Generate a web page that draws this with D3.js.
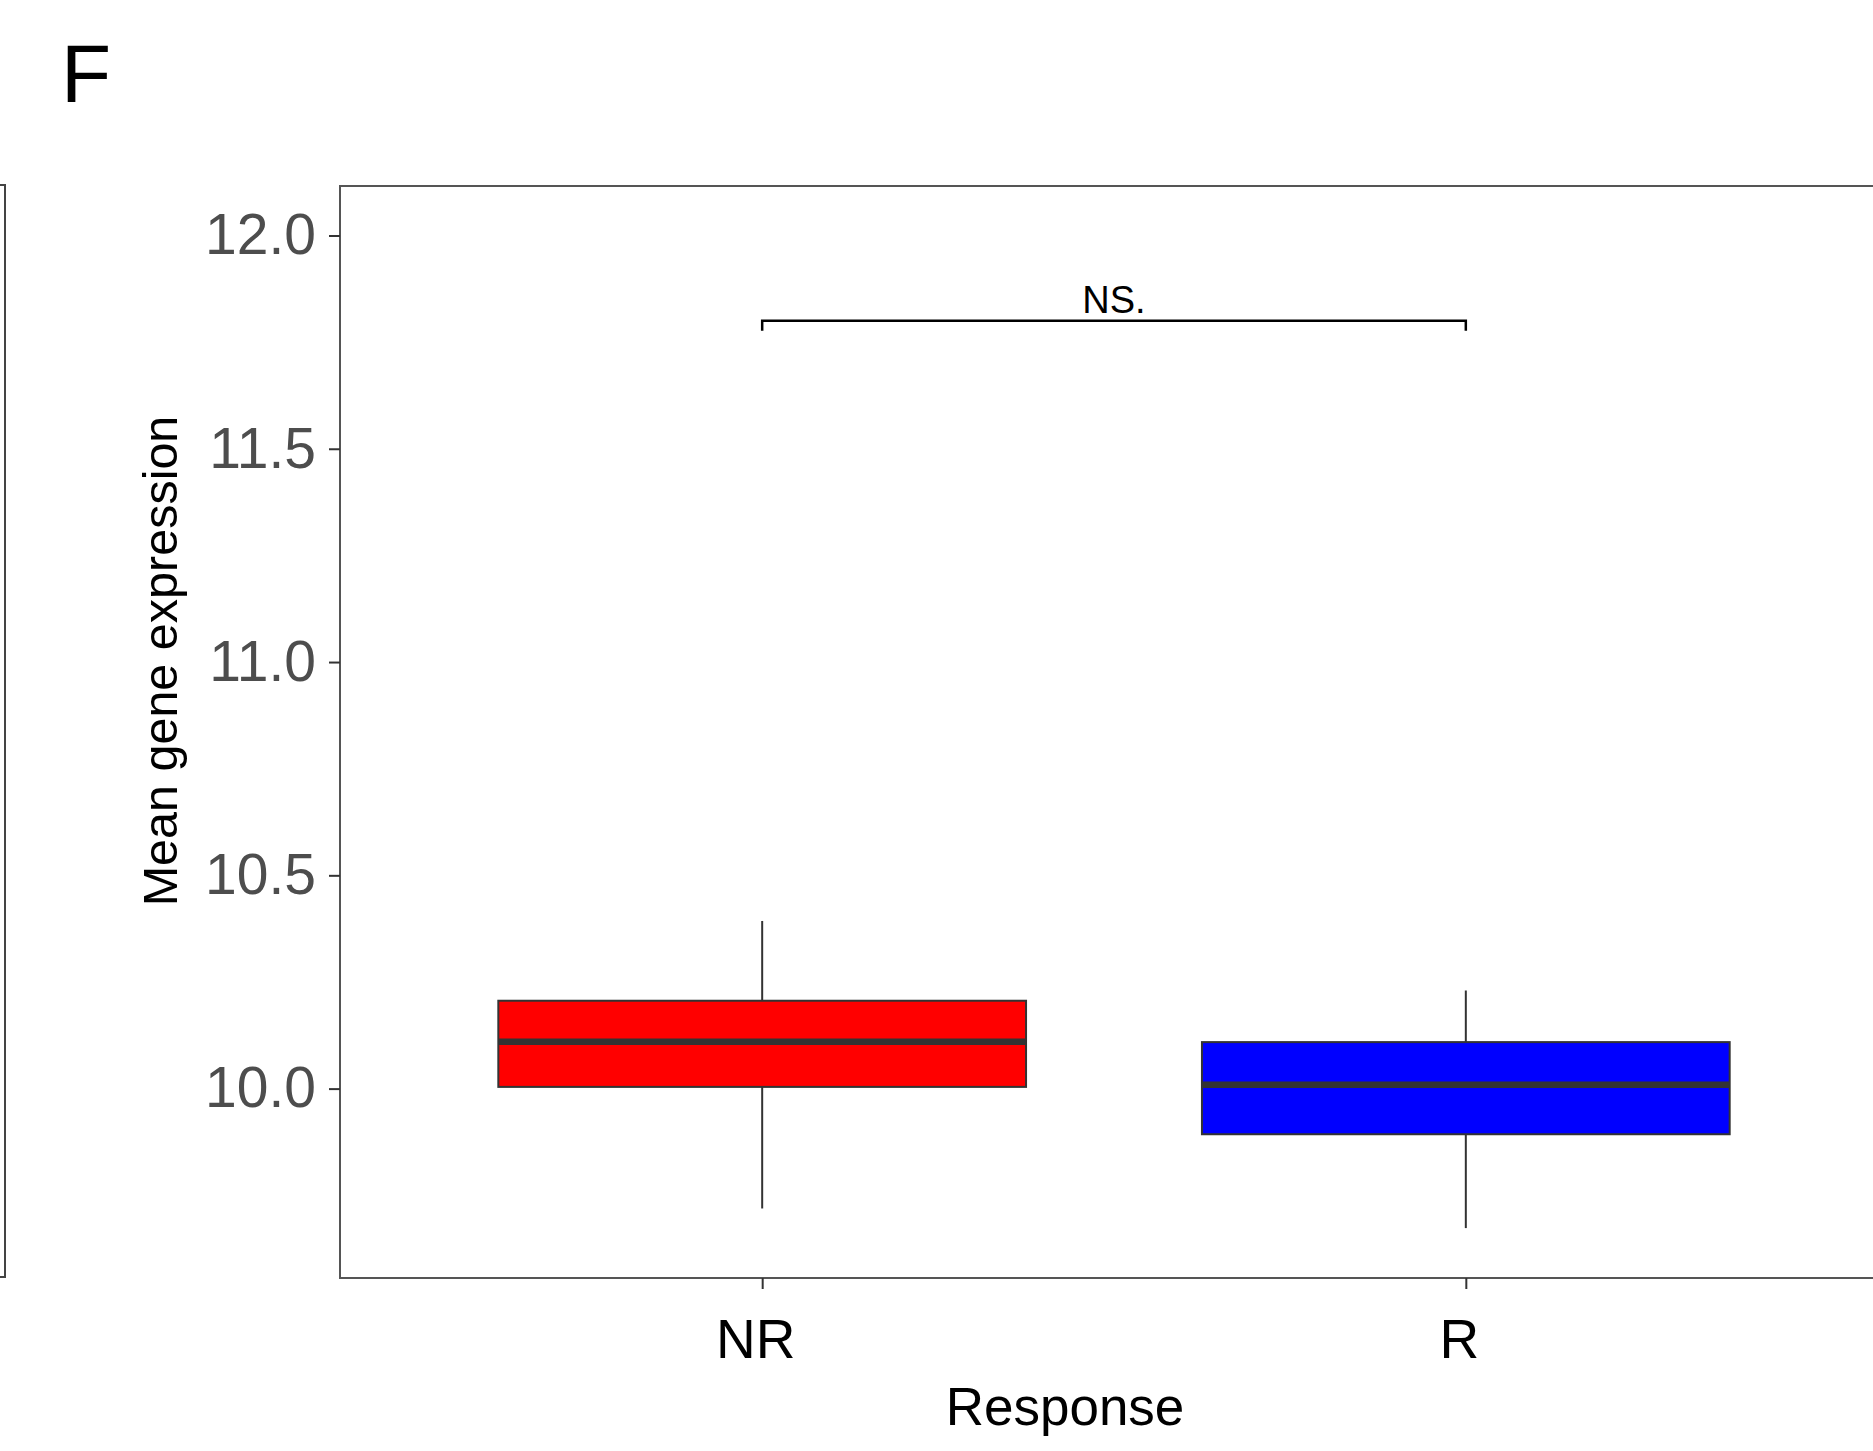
<!DOCTYPE html>
<html>
<head>
<meta charset="utf-8">
<script src="https://cdn.jsdelivr.net/npm/d3@7"></script>
<style>
  body { margin: 0; background: #fff; }
  svg { display: block; font-family: "Liberation Sans", Arial, sans-serif; }
</style>
</head>
<body>
<svg id="drawing_region"></svg>
<script>
// box stats
const groups = ["NR", "R"];
const lowerWhisker = [9.719, 9.673];
const q1 = [10.004, 9.893];
const median = [10.110, 10.009];
const q3 = [10.206, 10.109];
const upperWhisker = [10.393, 10.230];
const fills = ["#ff0000", "#0000ff"];
const yTicks = [10.0, 10.5, 11.0, 11.5, 12.0];
const bracketY = 11.80;
const bracketLabel = "NS.";

const W = 1873, H = 1451;
const panel = { left: 340, top: 186, right: 1888, bottom: 1278 };

const svg = d3.select("#drawing_region")
    .attr("width", W)
    .attr("height", H);

const x = d3.scalePoint()
    .domain(groups)
    .range([panel.left, panel.right])
    .padding(0.6);

const y = d3.scaleLinear()
    .domain([9.556, 12.116])
    .range([panel.bottom, panel.top]);

const boxW = x.step() * 0.75;

// panel F label
svg.append("text")
    .attr("x", 61)
    .attr("y", 102)
    .attr("font-size", 82)
    .attr("fill", "#000")
    .text("F");

// edge of the neighbouring panel
svg.append("path")
    .attr("d", `M0,185 H5 V1277 H0`)
    .attr("fill", "none")
    .attr("stroke", "#444")
    .attr("stroke-width", 2);

// panel border
svg.append("rect")
    .attr("x", panel.left)
    .attr("y", panel.top)
    .attr("width", panel.right - panel.left)
    .attr("height", panel.bottom - panel.top)
    .attr("fill", "none")
    .attr("stroke", "#555")
    .attr("stroke-width", 2);

// axes
const yAxis = svg.append("g")
    .attr("transform", `translate(${panel.left},0)`)
    .call(d3.axisLeft(y).tickValues(yTicks).tickFormat(d3.format(".1f")).tickSize(11).tickPadding(13));
yAxis.select(".domain").remove();
yAxis.selectAll("line").attr("stroke", "#333").attr("stroke-width", 2);
yAxis.selectAll("text")
    .attr("font-size", 57)
    .attr("fill", "#4d4d4d")
    .attr("font-family", "Liberation Sans, Arial, sans-serif");

const xAxis = svg.append("g")
    .attr("transform", `translate(0,${panel.bottom})`)
    .call(d3.axisBottom(x).tickSize(11).tickPadding(30));
xAxis.select(".domain").remove();
xAxis.selectAll("line").attr("stroke", "#333").attr("stroke-width", 2);
xAxis.selectAll("text")
    .attr("font-size", 55)
    .attr("fill", "#000")
    .attr("dx", -7)
    .attr("font-family", "Liberation Sans, Arial, sans-serif");

// axis titles
svg.append("text")
    .attr("x", 1065)
    .attr("y", 1425)
    .attr("text-anchor", "middle")
    .attr("font-size", 53)
    .attr("fill", "#000")
    .text("Response");

svg.append("text")
    .attr("transform", "translate(177,661) rotate(-90)")
    .attr("text-anchor", "middle")
    .attr("font-size", 48.5)
    .attr("fill", "#000")
    .text("Mean gene expression");

// boxes
const data = groups.map((g, i) => ({
    g: g, lo: lowerWhisker[i], q1: q1[i], med: median[i], q3: q3[i], hi: upperWhisker[i], fill: fills[i]
}));

const box = svg.selectAll(".box")
    .data(data)
    .enter()
    .append("g")
    .attr("class", "box");

box.append("line")
    .attr("x1", d => x(d.g)).attr("x2", d => x(d.g))
    .attr("y1", d => y(d.hi)).attr("y2", d => y(d.q3))
    .attr("stroke", "#333").attr("stroke-width", 2);

box.append("line")
    .attr("x1", d => x(d.g)).attr("x2", d => x(d.g))
    .attr("y1", d => y(d.q1)).attr("y2", d => y(d.lo))
    .attr("stroke", "#333").attr("stroke-width", 2);

box.append("rect")
    .attr("x", d => x(d.g) - boxW / 2)
    .attr("y", d => y(d.q3))
    .attr("width", boxW)
    .attr("height", d => y(d.q1) - y(d.q3))
    .attr("fill", d => d.fill)
    .attr("stroke", "#333")
    .attr("stroke-width", 2);

box.append("line")
    .attr("x1", d => x(d.g) - boxW / 2).attr("x2", d => x(d.g) + boxW / 2)
    .attr("y1", d => y(d.med)).attr("y2", d => y(d.med))
    .attr("stroke", "#333").attr("stroke-width", 6.5);

// significance bracket
const by = y(bracketY);
svg.append("path")
    .attr("d", `M${x(groups[0])},${by + 10} V${by} H${x(groups[1])} V${by + 10}`)
    .attr("fill", "none")
    .attr("stroke", "#000")
    .attr("stroke-width", 2.5);

svg.append("text")
    .attr("x", (x(groups[0]) + x(groups[1])) / 2)
    .attr("y", by - 8)
    .attr("text-anchor", "middle")
    .attr("font-size", 38)
    .attr("fill", "#000")
    .text(bracketLabel);
</script>
</body>
</html>
